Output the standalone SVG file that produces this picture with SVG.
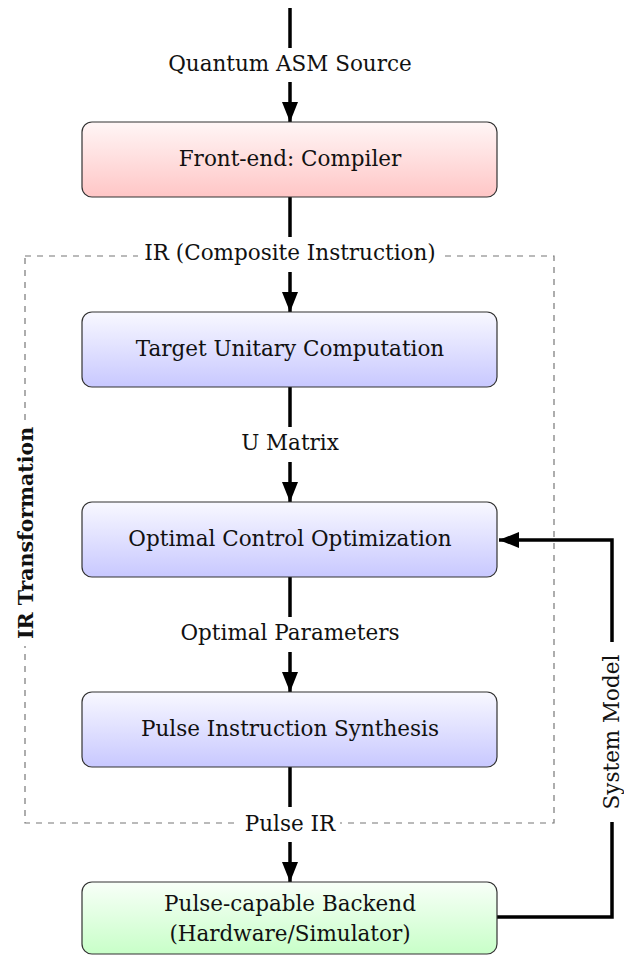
<svg xmlns="http://www.w3.org/2000/svg" width="624" height="955" viewBox="0 0 624 955">
<defs>
<linearGradient id="gRed" x1="0" y1="0" x2="0" y2="1"><stop offset="0" stop-color="#fff6f6"/><stop offset="1" stop-color="#ffc6c6"/></linearGradient>
<linearGradient id="gBlue" x1="0" y1="0" x2="0" y2="1"><stop offset="0" stop-color="#f8f8ff"/><stop offset="1" stop-color="#c8c8ff"/></linearGradient>
<linearGradient id="gGreen" x1="0" y1="0" x2="0" y2="1"><stop offset="0" stop-color="#f8fff8"/><stop offset="1" stop-color="#c8ffc8"/></linearGradient>
<marker id="ah" viewBox="0 0 20 16" refX="20" refY="8" markerWidth="20" markerHeight="16" markerUnits="userSpaceOnUse" orient="auto"><path d="M0,0 L20,8 L0,16 Z" fill="#000"/></marker>
<style>
.box{stroke:#333;stroke-width:1.2}
.t{font-family:"DejaVu Serif",serif;font-size:21.5px;fill:#111;text-anchor:middle}
.b{font-weight:bold;font-size:20.5px}
.ln{stroke:#000;stroke-width:3.5;fill:none}
.dash{stroke:#777;stroke-width:1.2;fill:none;stroke-dasharray:6,6}
</style>
</defs>
<g id="ir-region">
<rect class="dash" x="25" y="256" width="529" height="567"/>
<rect x="138" y="240" width="306" height="30" fill="#fff"/>
<rect x="240" y="812" width="100" height="26" fill="#fff"/>
<rect x="12" y="420" width="28" height="226" fill="#fff"/>
<text class="t b" transform="translate(33,533) rotate(-90)">IR Transformation</text>
</g>
<g id="connectors">
<line class="ln" x1="290" y1="8" x2="290" y2="48"/>
<line class="ln" x1="290" y1="82" x2="290" y2="122" marker-end="url(#ah)"/>
<line class="ln" x1="290" y1="197" x2="290" y2="237"/>
<line class="ln" x1="290" y1="272" x2="290" y2="312" marker-end="url(#ah)"/>
<line class="ln" x1="290" y1="387" x2="290" y2="427"/>
<line class="ln" x1="290" y1="462" x2="290" y2="502" marker-end="url(#ah)"/>
<line class="ln" x1="290" y1="577" x2="290" y2="617"/>
<line class="ln" x1="290" y1="652" x2="290" y2="692" marker-end="url(#ah)"/>
<line class="ln" x1="290" y1="767" x2="290" y2="807"/>
<line class="ln" x1="290" y1="842" x2="290" y2="882" marker-end="url(#ah)"/>
<polyline class="ln" points="497,917 612,917 612,822"/>
<polyline class="ln" points="612,642 612,540 499,540" marker-end="url(#ah)"/>
<text class="t" x="290" y="71">Quantum ASM Source</text>
<text class="t" x="290" y="260">IR (Composite Instruction)</text>
<text class="t" x="290" y="450">U Matrix</text>
<text class="t" x="290" y="640">Optimal Parameters</text>
<text class="t" x="290" y="831">Pulse IR</text>
<text class="t" transform="translate(619,732) rotate(-90)">System Model</text>
</g>
<g id="frontend">
<rect class="box" x="82" y="122" width="415" height="75" rx="10" fill="url(#gRed)"/>
<text class="t" x="290" y="166">Front-end: Compiler</text>
</g>
<g id="target-unitary">
<rect class="box" x="82" y="312" width="415" height="75" rx="10" fill="url(#gBlue)"/>
<text class="t" x="290" y="356">Target Unitary Computation</text>
</g>
<g id="optimal-control">
<rect class="box" x="82" y="502" width="415" height="75" rx="10" fill="url(#gBlue)"/>
<text class="t" x="290" y="546">Optimal Control Optimization</text>
</g>
<g id="pulse-synthesis">
<rect class="box" x="82" y="692" width="415" height="75" rx="10" fill="url(#gBlue)"/>
<text class="t" x="290" y="736">Pulse Instruction Synthesis</text>
</g>
<g id="backend">
<rect class="box" x="82" y="882" width="415" height="72" rx="10" fill="url(#gGreen)"/>
<text class="t" x="290" y="911">Pulse-capable Backend</text>
<text class="t" x="290" y="941">(Hardware/Simulator)</text>
</g>
</svg>
